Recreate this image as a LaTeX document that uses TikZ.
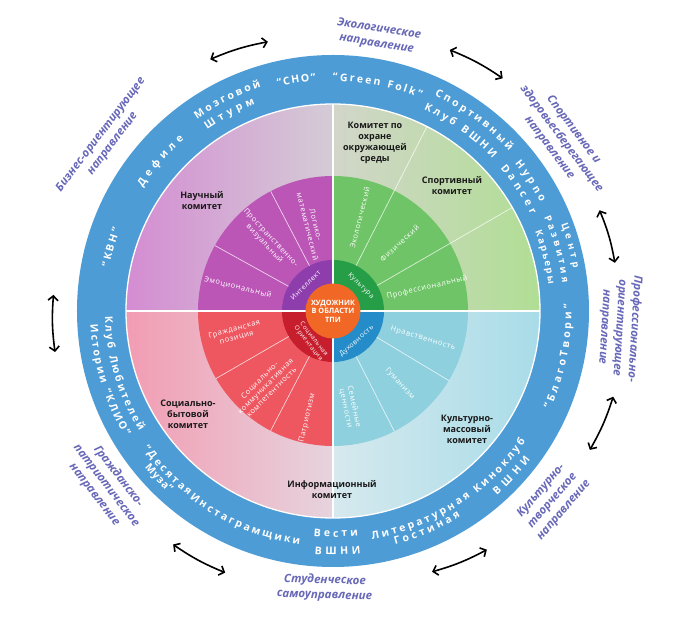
\documentclass[tikz,border=0pt]{standalone}
\usepackage{fontspec}
\setmainfont{Open Sans}
\newfontfamily\ringfont{Open Sans}
\newfontfamily\secfont[LetterSpace=8]{Open Sans}
\usetikzlibrary{decorations.text,arrows.meta}

\definecolor{ringblue}{RGB}{78,156,214}
\definecolor{dirpurple}{RGB}{104,104,184}
\definecolor{purpA}{RGB}{212,140,210}
\definecolor{purpB}{RGB}{212,204,214}
\definecolor{greenA}{RGB}{210,214,202}
\definecolor{greenB}{RGB}{176,222,148}
\definecolor{redA}{RGB}{242,156,178}
\definecolor{redB}{RGB}{230,212,222}
\definecolor{blueA}{RGB}{214,233,238}
\definecolor{blueB}{RGB}{168,220,232}
\definecolor{purpM}{RGB}{187,86,182}
\definecolor{greenM}{RGB}{110,196,102}
\definecolor{blueM}{RGB}{142,208,222}
\definecolor{redM}{RGB}{238,86,96}
\definecolor{purpI}{RGB}{142,62,172}
\definecolor{greenI}{RGB}{38,158,72}
\definecolor{blueI}{RGB}{36,140,200}
\definecolor{redI}{RGB}{198,30,45}
\definecolor{coreorange}{RGB}{241,104,38}

\tikzset{
  ringtext/.style={decorate, decoration={text along path, text align={fit to path}, text color=white,
      text={|\ringfont\bfseries\fontsize{10.5}{12}\selectfont|#1}}},
  smallring/.style={decorate, decoration={text along path, text align={fit to path}, text color=white,
      text={|\ringfont\bfseries\fontsize{9.5}{11}\selectfont|#1}}},
  comlabel/.style={font=\bfseries\fontsize{9}{11}\selectfont, text=black!90, align=center, inner sep=0pt},
  seclabel/.style={font=\secfont\fontsize{7.5}{8.5}\selectfont, text=white, align=center, inner sep=0pt},
  corelabel/.style={font=\bfseries\fontsize{7.3}{8.5}\selectfont, text=white, align=center, inner sep=0pt},
  innerlabel/.style={font=\secfont\fontsize{6.8}{7.5}\selectfont, text=white, align=center, inner sep=0pt},
  dirlabel/.style={font=\bfseries\itshape\fontsize{11.5}{15}\selectfont, text=dirpurple, align=center, inner sep=0pt},
  dirarrow/.style={line width=1.6pt, black, {Straight Barb[length=4.5pt,width=10pt]}-{Straight Barb[length=4.5pt,width=10pt]}},
  divider/.style={white, line width=0.7pt, opacity=0.75},
  sepline/.style={white, line width=1.3pt},
}

\begin{document}
\begin{tikzpicture}[x=1pt,y=1pt]
\useasboundingbox (-333,-312) rectangle (340,311);
\fill[white] (-333,-312) rectangle (340,311);

% blue ring
\fill[ringblue] (0,0) circle (256);

% committee zone
\begin{scope}
  \clip (0,0) -- (90:207) arc[start angle=90,end angle=180,radius=207] -- cycle;
  \shade[left color=purpA, right color=purpB] (-207,0) rectangle (0,207);
\end{scope}
\begin{scope}
  \clip (0,0) -- (0:207) arc[start angle=0,end angle=90,radius=207] -- cycle;
  \shade[left color=greenA, right color=greenB] (0,0) rectangle (207,207);
\end{scope}
\begin{scope}
  \clip (0,0) -- (180:207) arc[start angle=180,end angle=270,radius=207] -- cycle;
  \shade[left color=redA, right color=redB] (-207,-207) rectangle (0,0);
\end{scope}
\begin{scope}
  \clip (0,0) -- (270:207) arc[start angle=270,end angle=360,radius=207] -- cycle;
  \shade[left color=blueA, right color=blueB] (0,-207) rectangle (207,0);
\end{scope}

% middle sectors
\fill[purpM] (0,0) -- (90:135) arc[start angle=90,end angle=180,radius=135] -- cycle;
\fill[greenM] (0,0) -- (0:135) arc[start angle=0,end angle=90,radius=135] -- cycle;
\fill[redM] (0,0) -- (180:135) arc[start angle=180,end angle=270,radius=135] -- cycle;
\fill[blueM] (0,0) -- (270:135) arc[start angle=270,end angle=360,radius=135] -- cycle;

% inner ring
\fill[purpI] (0,0) -- (90:51) arc[start angle=90,end angle=180,radius=51] -- cycle;
\fill[greenI] (0,0) -- (0:51) arc[start angle=0,end angle=90,radius=51] -- cycle;
\fill[redI] (0,0) -- (180:51) arc[start angle=180,end angle=270,radius=51] -- cycle;
\fill[blueI] (0,0) -- (270:51) arc[start angle=270,end angle=360,radius=51] -- cycle;

% dividers
\draw[divider] (117.5:51) -- (117.5:135);
\draw[divider] (151:51) -- (151:135);
\draw[divider] (63:51) -- (63:207);
\draw[divider] (30:51) -- (30:207);
\draw[divider] (-31:51) -- (-31:135);
\draw[divider] (-63:51) -- (-63:135);
\draw[divider] (210:51) -- (210:135);
\draw[divider] (242.5:51) -- (242.5:135);

\draw[sepline] (0,0) circle (207);
\draw[sepline] (-207,0) -- (207,0);
\draw[sepline] (0,-207) -- (0,207);

% core
\fill[coreorange] (0,0) circle (27.5);
\node[corelabel] (core) at (0,0) {ХУДОЖНИК\\В ОБЛАСТИ\\ТПИ};

% inner ring labels
\node[innerlabel, rotate=45] (intel) at (137:37.5) {Интеллект};
\node[innerlabel, rotate=-45] (kult) at (42:37.5) {Культура};
\node[innerlabel, rotate=42] (duh) at (-52:38.5) {Духовность};
\node[innerlabel, font=\secfont\fontsize{6.2}{7}\selectfont, rotate=-52] (socor) at (234:37.5) {Социальная\\Ориентация};

% middle labels
\node[seclabel, rotate=-76] (logmat) at (104:88) {Логико-\\математический};
\node[seclabel, rotate=-47] (prostr) at (133:96) {Пространственно-\\визуальный};
\node[seclabel, rotate=-14] (emo) at (166:98) {Эмоциональный};
\node[seclabel, rotate=76] (ekol) at (74:97) {Экологический};
\node[seclabel, rotate=43] (fiz) at (45.5:95) {Физический};
\node[seclabel, rotate=13] (prof) at (14:97) {Профессиональный};
\node[seclabel, rotate=-17] (nravs) at (-17:94) {Нравственность};
\node[seclabel, rotate=-48] (guman) at (-47.5:99) {Гуманизм};
\node[seclabel, rotate=-78] (semya) at (-80:98) {Семейные\\ценности};
\node[seclabel, rotate=15] (grazhp) at (193:100) {Гражданская\\позиция};
\node[seclabel, rotate=45] (sockom) at (228:101) {Социально-\\коммуникативная\\компетентность};
\node[seclabel, rotate=77] (patr) at (256.5:110) {Патриотизм};

% committee labels
\node[comlabel] (nauch) at (-131,110) {Научный\\комитет};
\node[comlabel] (ohrana) at (42,168) {Комитет по\\охране\\окружающей\\среды};
\node[comlabel] (sport) at (119,125) {Спортивный\\комитет};
\node[comlabel] (kultmass) at (134,-118) {Культурно-\\массовый\\комитет};
\node[comlabel] (inform) at (-1,-179) {Информационный\\комитет};
\node[comlabel] (socbyt) at (-145,-103) {Социально-\\бытовой\\комитет};

% ring texts (clockwise, top)
\path[ringtext={“КВН”}] (169:228) arc[start angle=169,end angle=159,radius=228];
\path[ringtext={Дефиле}] (147:227) arc[start angle=147,end angle=131,radius=227];
\path[ringtext={Мозговой}] (125.3:235) arc[start angle=125.3,end angle=107.8,radius=235];
\path[ringtext={Штурм}] (124.7:221) arc[start angle=124.7,end angle=110.6,radius=221];
\path[ringtext={“СНО”}] (103.8:231) arc[start angle=103.8,end angle=94.3,radius=231];
\path[ringtext={“Green Folk”}] (90:230) arc[start angle=90,end angle=67.6,radius=230];
\path[ringtext={Спортивный}] (64.7:238) arc[start angle=64.7,end angle=42.3,radius=238];
\path[ringtext={Клуб ВШНИ}] (65.7:221) arc[start angle=65.7,end angle=43.7,radius=221];
\path[ringtext={Hypno}] (39:234) arc[start angle=39,end angle=27.6,radius=234];
\path[ringtext={Dancer}] (40.5:220) arc[start angle=40.5,end angle=26,radius=220];
\path[smallring={Центр}] (20.8:244) arc[start angle=20.8,end angle=10,radius=244];
\path[smallring={Развития}] (23.9:231) arc[start angle=23.9,end angle=6.9,radius=231];
\path[smallring={Карьеры}] (21.4:217) arc[start angle=21.4,end angle=7,radius=217];

% ring texts (counterclockwise, bottom)
\path[ringtext={“БлагоТвори”}] (-24.4:238.5) arc[start angle=-24.4,end angle=1.7,radius=238.5];
\path[ringtext={Киноклуб}] (-51.8:232.5) arc[start angle=-51.8,end angle=-34.1,radius=232.5];
\path[ringtext={ВШНИ}] (-48.4:247) arc[start angle=-48.4,end angle=-36.9,radius=247];
\path[ringtext={Литературная}] (-80.3:231.5) arc[start angle=-80.3,end angle=-53.6,radius=231.5];
\path[ringtext={Гостиная}] (-75.1:242) arc[start angle=-75.1,end angle=-58.2,radius=242];
\path[ringtext={Вести}] (-94.9:226) arc[start angle=-94.9,end angle=-83.6,radius=226];
\path[ringtext={ВШНИ}] (-94.3:244) arc[start angle=-94.3,end angle=-83.5,radius=244];
\path[ringtext={Инстаграмщики}] (232.6:236) arc[start angle=232.6,end angle=261.9,radius=236];
\path[ringtext={“Десятая}] (215.8:234.5) arc[start angle=215.8,end angle=232,radius=234.5];
\path[ringtext={Муза”}] (219.8:245) arc[start angle=219.8,end angle=228,radius=245];
\path[ringtext={Клуб Любителей}] (181.3:228) arc[start angle=181.3,end angle=211.9,radius=228];
\path[ringtext={Истории “КЛИО”}] (183.2:243) arc[start angle=183.2,end angle=211.2,radius=243];

% direction labels
\node[dirlabel, rotate=-9.3] (eco) at (80.7:278) {Экологическое\\направление};
\node[dirlabel, rotate=-53] (sportdir) at (37:286) {Спортивное и\\здоровьесберегающее\\направление};
\node[dirlabel, rotate=-93.4] (profdir) at (-3.4:287) {Профессионально-\\ориентирующее\\направление};
\node[dirlabel, rotate=49.2] (kultdir) at (-40.8:290) {Культурно-\\творческое\\направление};
\node[dirlabel, rotate=-1.7] (stud) at (-91.7:277) {Студенческое\\самоуправление};
\node[dirlabel, rotate=-52.4] (grazh) at (217.6:286) {Гражданско-\\патриотическое\\направление};
\node[dirlabel, rotate=52.8] (biz) at (142.8:284) {Бизнес-ориентирующее\\направление};

% arrows
\coordinate (a1s) at (116:280);   \coordinate (a1e) at (103.6:277);
\coordinate (a2s) at (65.9:286);  \coordinate (a2e) at (53.9:288);
\coordinate (a3s) at (20.7:285);  \coordinate (a3e) at (9.7:286);
\coordinate (a4s) at (-17:293);   \coordinate (a4e) at (-28.4:292);
\coordinate (a5s) at (-57.2:284); \coordinate (a5e) at (-69.2:279);
\coordinate (a6s) at (247.6:283); \coordinate (a6e) at (235.6:283);
\coordinate (a7s) at (188.4:281); \coordinate (a7e) at (176.7:280);
\draw[dirarrow] (a1s) to[bend left=6] (a1e);
\draw[dirarrow] (a2s) to[bend left=6] (a2e);
\draw[dirarrow] (a3s) to[bend left=6] (a3e);
\draw[dirarrow] (a4s) to[bend left=6] (a4e);
\draw[dirarrow] (a5s) to[bend left=6] (a5e);
\draw[dirarrow] (a6s) to[bend left=6] (a6e);
\draw[dirarrow] (a7s) to[bend left=6] (a7e);
\end{tikzpicture}
\end{document}
